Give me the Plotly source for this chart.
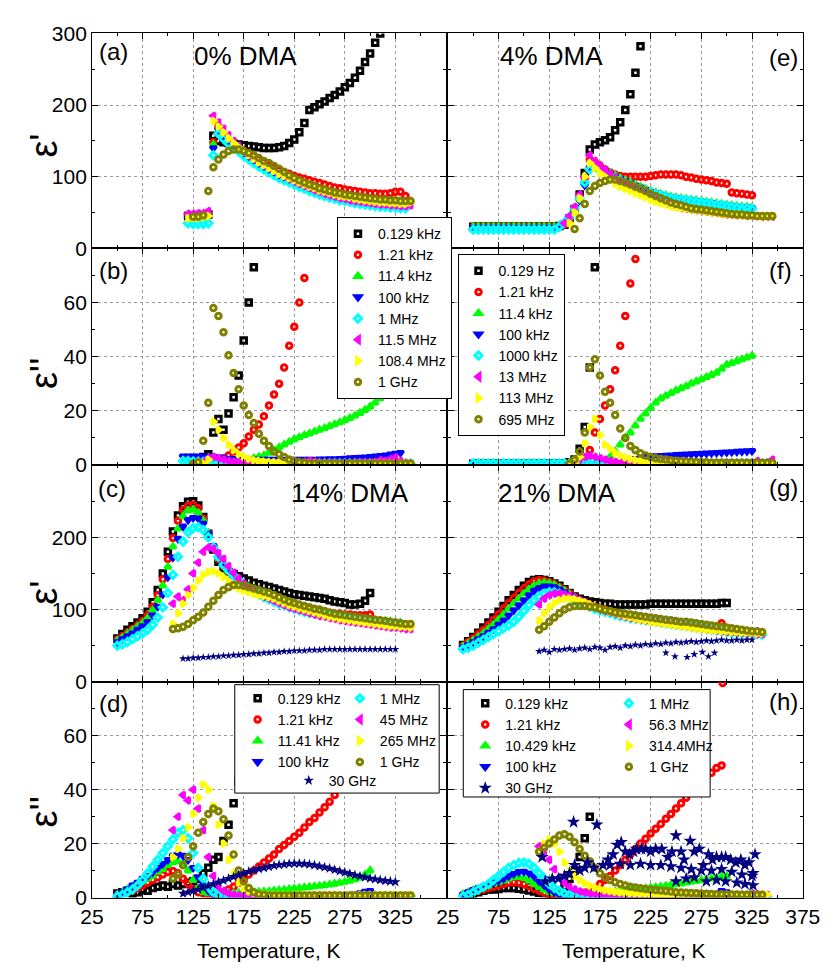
import plotly.graph_objects as go

FONT = "Arial, Liberation Sans, Helvetica, sans-serif"

# common temperature grid (K)
T_GRID = [40, 45, 50, 55, 60, 65, 70, 75, 80, 85, 90, 95, 100, 105, 110, 115, 120, 125, 130, 135,
          140, 145, 150, 155, 160, 165, 170, 175, 180, 185, 190, 195, 200, 205, 210, 215, 220, 225,
          230, 235, 240, 245, 250, 255, 260, 265, 270, 275, 280, 285, 290, 295, 300, 305, 310, 315,
          320, 325, 330, 335, 340, 345]

# ---------------- 0% DMA, eps' (a) : (start T, values) ----------------
A_K0129 = (120, [45, 45, 45, 45, 47, 157, 150, 148, 147, 146, 145, 144, 143, 142, 141, 140, 140, 140, 141, 143,
                 147, 152, 162, 175, 193, 197, 201, 205, 210, 214, 219, 225, 231, 238, 248, 260, 272, 287, 300])
A_K121 = (120, [46, 46, 46, 46, 47, 148, 170, 160, 152, 145, 139, 134, 130, 126, 122, 118, 115, 112, 109, 106,
                104, 101, 99, 97, 95, 93, 91, 89, 87, 85, 84, 82, 81, 80, 79, 78, 77, 77, 76, 76, 77, 79, 79, 73])
A_K114 = (120, [47, 47, 47, 47, 48, 145, 168, 160, 152, 146, 140, 134, 129, 124, 119, 115, 111, 107, 103, 100,
                97, 94, 91, 88, 85, 83, 80, 78, 76, 74, 72, 71, 70, 68, 67, 66, 65, 64, 63, 63, 62, 62, 61, 61])
A_K100 = (120, [44, 44, 44, 44, 45, 140, 166, 158, 150, 144, 138, 132, 127, 122, 117, 113, 109, 105, 101, 98,
                95, 92, 89, 86, 83, 81, 78, 76, 74, 72, 70, 69, 68, 66, 65, 64, 63, 62, 61, 61, 60, 60, 59, 59])
A_M1 = (120, [35, 34, 34, 34, 35, 130, 160, 153, 146, 140, 135, 129, 124, 119, 114, 110, 106, 102, 98, 95,
              92, 89, 86, 83, 80, 78, 75, 73, 71, 69, 67, 66, 65, 63, 62, 61, 60, 59, 58, 58, 57, 57, 56, 56])
A_M115 = (120, [48, 48, 49, 49, 52, 185, 176, 167, 158, 150, 143, 136, 130, 125, 120, 116, 112, 108, 104, 100,
                97, 93, 90, 87, 84, 81, 79, 76, 74, 72, 70, 69, 67, 66, 65, 64, 63, 62, 61, 61, 60, 60, 59, 59, 60])
A_M1084 = (120, [42, 42, 42, 43, 45, 178, 170, 162, 154, 147, 141, 135, 130, 125, 120, 116, 112, 108, 104, 101,
                 98, 95, 92, 89, 86, 84, 81, 79, 77, 75, 73, 72, 71, 69, 68, 67, 66, 65, 64, 64, 63, 63, 62, 62, 64])
A_G1 = (125, [44, 44, 46, 80, 113, 124, 131, 136, 138, 138, 136, 133, 130, 126, 122, 119, 115, 111, 107, 102,
              98, 95, 92, 89, 87, 84, 82, 80, 78, 77, 75, 74, 73, 72, 71, 70, 69, 68, 68, 67, 67, 66, 66, 66])

# ---------------- 0% DMA, eps'' (b) ----------------
B_K0129 = (130, [2, 3, 4, 12, 17, 13, 19, 25, 33, 46, 60, 73])
B_K121 = (140, [1, 1.5, 2, 2.5, 3.5, 5, 6.5, 8, 10.5, 13, 15, 18, 22, 26, 30, 36, 44, 51, 60, 69])
B_K114 = (120, [1.5, 1.5, 1.5, 1.5, 1.5, 1.5, 1.5, 1.5, 1.5, 1.5, 1.5, 1.8, 2, 2.5, 3, 3.5, 4.5, 5.5, 6.5, 7.5,
                8.5, 9.5, 10.2, 11, 11.6, 12.3, 13, 13.6, 14.3, 15, 15.7, 16.5, 17.3, 18.2, 19.2, 20.3, 21.5,
                23, 24.6, 26.5, 28.5, 31, 34])
B_K100 = (115, [3.2, 3.2, 3.2, 3.2, 3.2, 3.2, 3, 2.8, 2.6, 2.4, 2.3, 2.2, 2.1, 2, 2, 2, 2, 2, 2, 2,
                2, 2, 2, 2, 2, 2, 2, 2.1, 2.1, 2.2, 2.2, 2.3, 2.4, 2.5, 2.6, 2.7, 2.8, 3, 3.2, 3.4,
                3.6, 3.9, 4.2, 4.5])
B_M1 = (115, [1.5, 1.5, 1.3, 1.2, 1.1, 1, 0.9, 0.8, 0.8, 0.7, 0.7, 0.7, 0.6, 0.6, 0.6, 0.6, 0.6, 0.6, 0.6, 0.6,
              0.6, 0.6, 0.6, 0.6, 0.6, 0.6, 0.6, 0.6, 0.6, 0.6, 0.6, 0.6, 0.6, 0.6, 0.6, 0.6, 0.6, 0.6, 0.6, 0.6,
              0.6, 0.6, 0.6, 0.6, 0.6, 0.6])
B_M115 = (125, [0.3, 0.5, 1, 2.5, 3, 2.5, 2, 1.5, 1.2, 1, 0.9, 0.8, 0.8, 0.7, 0.7, 0.7, 0.7, 0.7, 0.7, 0.7,
                0.8, 0.9, 1.2, 1.5, 1.2, 0.9, 0.8, 0.8, 0.8, 0.8, 0.8, 0.8, 0.9, 1, 1, 1, 1.2, 1.8, 1.5, 2.2,
                2.8, 1.5, 0.8, 0.6])
B_M1084 = (130, [0.3, 0.5, 2, 16, 13, 10, 7.5, 5.5, 4, 3, 2.3, 1.8, 1.5, 1.3, 1.1, 1, 0.9, 0.8, 0.8, 0.7,
                 0.7, 0.6, 0.6, 0.6, 0.6, 0.6, 0.6, 0.6, 0.6, 0.6, 0.6, 0.6, 0.6, 0.6, 0.6, 0.6, 0.6, 0.6, 0.6,
                 0.6, 0.6, 0.6, 0.6])
B_G1 = (125, [0.5, 1, 9, 23, 58, 55, 49, 40.5, 34, 28, 22, 18.5, 15.5, 11.5, 9, 7, 5, 4, 3, 2,
              1.5, 1, 0.8, 0.6, 0.6, 0.6, 0.6, 0.6, 0.6, 0.6, 0.6, 0.6, 0.6, 0.6, 0.6, 0.6, 0.6, 0.6, 0.6, 0.6,
              0.6, 0.6, 0.6, 0.6])

# ---------------- 4% DMA, eps' (e) ----------------
E_K0129 = (50, [30, 30, 30, 30, 30, 30, 30, 30, 30, 30, 30, 30, 30, 30, 30, 30, 30, 31, 33, 42,
                55, 75, 105, 138, 145, 148, 151, 155, 165, 176, 193, 215, 245, 282])
E_K121 = (50, [30, 30, 30, 30, 30, 30, 30, 30, 30, 30, 30, 30, 30, 30, 30, 30, 30,
               31, 33, 42, 55, 72, 98, 124, 120, 115, 110, 106, 103, 101, 100, 100, 100, 100, 100, 101, 102,
               103, 103, 103, 103, 102, 100, 99, 97, 96, 95, 94, 92, 91, 90, 78, 77, 76, 75, 74])
E_K114 = (50, [30, 30, 30, 30, 30, 30, 30, 30, 30, 30, 30, 30, 30, 30, 30, 30, 30,
               32, 36, 44, 55, 68, 90, 115, 117, 113, 109, 105, 102, 98, 95, 92, 89, 86, 83, 80, 78,
               76, 74, 72, 71, 70, 69, 68, 67, 66, 65, 64, 63, 62, 61, 60, 59, 58, 58, 57])
E_K100 = (50, [29, 29, 29, 29, 29, 29, 29, 29, 29, 29, 29, 29, 29, 29, 29, 29, 29,
               31, 35, 43, 54, 67, 88, 112, 115, 111, 107, 103, 100, 97, 94, 91, 88, 85, 82, 79, 77,
               75, 73, 71, 70, 69, 68, 67, 66, 65, 64, 63, 62, 61, 60, 59, 58, 57, 57, 56])
E_K1000 = (50, [26, 26, 26, 26, 26, 26, 26, 26, 26, 26, 26, 26, 26, 26, 26, 26, 26,
                30, 36, 44, 56, 70, 92, 110, 113, 109, 105, 101, 98, 95, 92, 89, 86, 83, 80, 78, 76,
                74, 72, 70, 69, 68, 67, 66, 65, 64, 63, 62, 61, 60, 59, 58, 57, 56, 56, 55])
E_M13 = (140, [35, 45, 58, 75, 100, 130, 122, 116, 110, 104, 99, 94, 89, 85, 81, 77, 74, 71, 68, 65,
               62, 60, 58, 56, 55, 54, 53, 52, 51, 50, 49, 48, 47, 47, 46, 46, 45, 45, 45, 44, 44, 44])
E_M113 = (145, [35, 50, 70, 100, 119, 112, 105, 100, 95, 90, 86, 83, 80, 77, 74, 71, 68, 65, 63, 61,
                59, 57, 56, 55, 54, 53, 52, 51, 50, 49, 48, 47, 47, 46, 46, 45, 45, 45, 44, 44, 44])
E_M695 = (150, [27, 42, 62, 80, 87, 91, 94, 96, 96, 94, 92, 89, 86, 83, 80, 76, 73, 70, 67, 64,
                62, 60, 58, 56, 55, 54, 53, 52, 51, 50, 49, 48, 47, 47, 46, 46, 45, 45, 45, 45])

# ---------------- 4% DMA, eps'' (f) ----------------
F_K0129 = (50, [0.5, 0.5, 0.5, 0.5, 0.5, 0.5, 0.5, 0.5, 0.5, 0.5, 0.5, 0.5, 0.5, 0.5, 0.5, 0.5, 0.5, 0.5, 0.5,
                1, 2, 6, 14, 36, 73])
F_K121 = (50, [0.3, 0.3, 0.3, 0.3, 0.3, 0.3, 0.3, 0.3, 0.3, 0.3, 0.3, 0.3, 0.3, 0.3, 0.3, 0.3, 0.3, 0.3, 0.3,
               0.3, 0.3, 1, 2.5, 5.5, 12, 17, 22, 28, 35, 44, 55, 67, 76])
F_K114 = (50, [0.5, 0.5, 0.5, 0.5, 0.5, 0.5, 0.5, 0.5, 0.5, 0.5, 0.5, 0.5, 0.5, 0.5, 0.5, 0.5, 0.5, 0.5, 0.5,
               0.5, 0.5, 0.5, 0.5, 0.5, 0.5, 0.5, 1.5, 3, 5, 7.5, 10, 12, 14.5, 17, 19, 21, 23, 24.5, 25.5,
               26.5, 27.5, 28.3, 29, 30, 30.8, 31.6, 32.4, 33.2, 34, 35.5, 37, 37.6, 38.3, 39, 39.6, 40.3])
F_K100 = (50, [0.5, 0.5, 0.5, 0.5, 0.5, 0.5, 0.5, 0.5, 0.5, 0.5, 0.5, 0.5, 0.5, 0.5, 0.5, 0.5, 0.5, 0.5, 0.5,
               0.5, 0.5, 0.5, 0.5, 0.5, 0.5, 0.5, 0.5, 0.5, 0.5, 0.5, 1.2, 1.8, 2.3, 2.7, 3, 3.2, 3.3, 3.4,
               3.5, 3.6, 3.7, 3.8, 3.9, 4, 4.1, 4.2, 4.3, 4.4, 4.5, 4.6, 4.7, 4.8, 4.9, 5, 5.1, 5.2])
F_K1000 = (50, [0.6, 0.6, 0.6, 0.6, 0.6, 0.6, 0.6, 0.6, 0.6, 0.6, 0.6, 0.6, 0.6, 0.6, 0.6, 0.6, 0.6, 0.6, 0.6,
                0.6, 0.6, 0.6, 0.6, 0.6, 0.6, 0.6, 0.6, 0.6, 0.6, 0.6, 0.6, 0.6, 0.6, 0.6, 0.6, 0.6, 0.6,
                0.6, 0.6, 0.6, 0.6, 0.6, 0.6, 0.6, 0.6, 0.6, 0.6, 0.6, 0.6, 0.6, 0.6, 0.6, 0.6, 0.6, 0.6,
                0.6, 0.6, 0.6, 0.6])
F_M13 = (145, [0.5, 1, 2, 3, 3.5, 3, 2.5, 2, 1.5, 1.2, 1, 0.9, 0.8, 0.8, 0.8, 0.8, 0.8, 0.8, 0.8, 0.8,
               0.8, 0.8, 1.5, 0.8, 0.8, 0.8, 0.8, 0.8, 0.8, 0.8, 0.8, 0.8, 0.8, 0.8, 0.8, 0.8, 0.8, 1.5,
               0.8, 0.8, 2])
F_M113 = (145, [0.5, 1, 3, 8, 14, 17, 11, 7.5, 6, 4.5, 3.5, 2.8, 2.2, 1.8, 1.4, 1.1, 0.9, 0.7, 0.5, 0.5,
                0.5, 0.5, 0.5, 0.5, 0.5, 0.5, 0.5, 0.5, 0.5, 0.5, 0.5, 0.5, 0.5, 0.5, 0.5, 0.5, 0.5, 0.5,
                0.5, 0.5, 0.5])
F_M695 = (145, [0.5, 2, 5, 12, 36, 39, 33, 27, 23, 18.5, 13.5, 10, 7, 5.5, 4.3, 3.5, 3, 2.5, 2.2, 2,
                1.8, 1.6, 1.4, 1.3, 1.2, 1.1, 1, 1, 0.8, 0.8, 0.8, 0.8, 0.8, 0.8, 0.8, 0.8, 0.8, 0.8, 0.8,
                0.8, 0.8])

# ---------------- 14% DMA, eps' (c) ----------------
C_K0129 = (50, [60, 66, 72, 77, 82, 88, 97, 110, 127, 150, 180, 208, 230, 243, 249, 250, 244, 228, 205, 183,
                166, 157, 152, 149, 146, 143, 140, 137, 135, 133, 131, 129, 127, 125, 123, 121, 120, 119, 118,
                117, 116, 115, 113, 111, 110, 109, 107, 107, 108, 112, 123])
C_K121 = (50, [58, 63, 68, 73, 78, 84, 92, 104, 120, 142, 170, 199, 223, 238, 244, 245, 240, 226, 206, 186,
               170, 160, 153, 147, 141, 135, 130, 126, 122, 119, 116, 113, 110, 108, 106, 104, 102, 100, 99,
               98, 97, 96, 95, 94, 94, 93, 93, 92, 92, 92, 93])
C_K1141 = (50, [57, 61, 66, 71, 76, 81, 88, 99, 113, 133, 159, 187, 212, 229, 237, 238, 234, 223, 206, 187,
                171, 161, 153, 147, 141, 135, 130, 126, 122, 119, 116, 113, 110, 108, 105, 103, 101, 99, 97,
                96, 95, 94, 93, 92, 91, 90, 89, 88, 87, 87, 86, 85, 84, 84, 83, 82, 82])
C_K100 = (50, [55, 59, 63, 67, 72, 77, 83, 92, 104, 121, 145, 172, 198, 215, 224, 227, 226, 219, 205, 188,
               172, 161, 153, 147, 141, 135, 130, 126, 122, 118, 115, 112, 109, 107, 104, 102, 100, 98, 96,
               95, 94, 93, 92, 91, 90, 89, 88, 87, 86, 86, 85, 84, 83, 83, 82, 81, 81])
C_M1 = (50, [50, 52, 55, 59, 63, 67, 72, 79, 89, 103, 123, 148, 173, 194, 207, 213, 214, 210, 200, 186,
             173, 162, 154, 147, 141, 135, 130, 125, 121, 117, 114, 111, 108, 106, 103, 101, 99, 97, 95,
             94, 93, 92, 91, 90, 89, 88, 87, 86, 85, 85, 84, 83, 82, 82, 81, 80, 80])
C_M45 = (105, [108, 118, 113, 128, 150, 165, 180, 186, 184, 178, 170, 160, 151, 143, 136, 130, 125, 121, 118,
               115, 112, 109, 106, 103, 101, 99, 97, 95, 93, 91, 90, 88, 87, 85, 84, 83, 82, 81, 80, 79,
               78, 77, 76, 75, 75, 74, 73, 73])
C_M265 = (105, [80, 95, 108, 120, 130, 140, 148, 152, 153, 150, 145, 139, 133, 129, 126, 124, 122, 120, 119,
                117, 115, 112, 109, 106, 104, 102, 100, 98, 96, 94, 92, 90, 89, 87, 86, 85, 84, 83, 82, 81,
                80, 79, 78, 77, 77, 76, 76, 75])
C_G1 = (105, [73, 74, 76, 80, 85, 90, 96, 104, 112, 120, 127, 131, 134, 134, 133, 131, 129, 127, 125, 123,
              120, 117, 114, 111, 109, 107, 105, 103, 101, 100, 98, 96, 94, 93, 92, 91, 90, 89, 88, 87,
              86, 85, 84, 83, 82, 81, 80, 80])
C_G30 = (115, [32, 32, 33, 33, 34, 34, 35, 35, 36, 36, 37, 37, 38, 38, 39, 39, 40, 40, 41, 41, 42, 42, 43,
               43, 43, 44, 44, 44, 45, 45, 45, 45, 45, 45, 45, 45, 45, 45, 45, 45, 45, 45, 45])

# ---------------- 14% DMA, eps'' (d) ----------------
D_K0129 = (50, [1.5, 2, 2.5, 1.5, 2, 3, 2.5, 3.5, 4, 4.5, 4, 5, 4.5, 5, 5.5, 6, 7, 9, 11, 14,
                15, 21, 27, 35, 43])
D_K121 = (50, [1, 1.5, 2, 2.5, 3.5, 4.5, 5.5, 6.5, 7.5, 8.5, 9.5, 9.8, 9, 7, 5, 3.2, 2, 1.5, 1.2, 1.2,
               1.5, 2, 3, 4, 5.5, 7, 8.5, 10, 11.5, 13, 14.5, 16, 18, 19.5, 21, 22.5, 24, 26, 28, 29.5,
               31.5, 33.5, 35.5, 38, 40.5, 43, 45.5, 48, 51, 54, 57])
D_K1141 = (50, [1, 2, 3, 4, 5, 6, 7, 8, 9.5, 10.5, 12, 13, 13.4, 12.5, 10, 6.5, 3.5, 2, 1.5, 1.5,
                1.5, 1.5, 1.5, 1.6, 1.7, 1.8, 1.9, 2, 2.1, 2.2, 2.3, 2.5, 2.7, 2.9, 3.1, 3.3, 3.5, 3.7,
                3.9, 4.1, 4.3, 4.5, 4.8, 5.1, 5.4, 5.8, 6.2, 6.7, 7.3, 8.5, 10])
D_K100 = (50, [1, 2, 3, 4.5, 5.5, 7, 8, 9.5, 11, 12.5, 14, 15.5, 16, 15.5, 14, 11, 7.5, 4.5, 2.5, 1.2,
               0.8, 0.6, 0.6, 0.6, 0.6, 0.6, 0.6, 0.6, 0.6, 0.6, 0.6, 0.6, 0.6, 0.6, 0.6, 0.7, 0.7, 0.7,
               0.7, 0.8, 0.8, 0.8, 0.9, 0.9, 1, 1, 1.1, 1.3, 1.6, 2.2, 2.5])
D_M1 = (50, [0.5, 1, 2, 3, 4.5, 6.5, 9, 11.5, 14, 16.5, 19, 21.5, 24, 25, 22, 16.5, 11, 7, 4, 2,
             1, 0.5, 0.5, 0.5, 0.5, 0.5, 0.5, 0.5, 0.5, 0.5, 0.5, 0.5, 0.5, 0.5, 0.5, 0.5, 0.5, 0.5, 0.5,
             0.5, 0.5, 0.5, 0.5, 0.5, 0.5, 0.5, 0.5, 0.5, 0.5, 0.5, 0.5, 0.5, 0.5, 0.5, 0.5, 0.5, 0.5,
             0.5, 0.5])
D_M45 = (105, [25, 30, 38, 36, 40, 33, 25, 15, 8, 4, 2.5, 1.5, 1, 0.8, 0.6, 0.6, 0.6, 0.6, 0.6, 0.6,
               0.6, 0.6, 0.6, 0.6, 0.6, 0.6, 0.6, 0.6, 0.6, 0.6, 0.6, 0.6, 0.6, 0.6, 0.6, 0.6, 0.6, 0.6,
               0.6, 0.6, 0.6, 0.6, 0.6, 0.6, 0.6, 0.6, 0.6, 0.6])
D_M265 = (105, [15, 18, 22, 26, 31, 37, 42, 40, 34, 27, 20, 14, 9, 5.5, 3.5, 2.3, 1.7, 1.4, 1.2, 1,
                1, 1, 1, 1, 1, 1, 1, 1, 1, 1, 1, 1, 1, 1, 1, 1, 1, 1, 1, 1, 1, 1, 1, 1, 1, 1, 1, 1])
D_G1 = (105, [7, 8.5, 12, 15, 19, 24, 28, 31, 33, 32, 29, 23, 16, 10, 6, 3.5, 2, 1.2, 1, 0.8,
              0.8, 0.8, 0.8, 0.8, 0.8, 0.8, 0.8, 0.8, 0.8, 0.8, 0.8, 0.8, 0.8, 0.8, 0.8, 0.8, 0.8, 0.8,
              0.8, 0.8, 0.8, 0.8, 0.8, 0.8, 0.8, 0.8, 0.8, 0.8])
D_G30 = (115, [1.5, 2, 2.5, 3, 3.7, 4.3, 5, 5.7, 6.3, 7, 7.7, 8.3, 9, 9.6, 10.1, 10.6, 11, 11.4, 11.8,
               12.1, 12.3, 12.5, 12.6, 12.6, 12.5, 12.3, 12, 11.6, 11.2, 10.8, 10.3, 9.8, 9.3, 8.8, 8.3,
               7.9, 7.5, 7.1, 6.8, 6.5, 6.2, 6, 5.8])

# ---------------- 21% DMA, eps' (g) ----------------
G_K0129 = (40, [51, 56, 62, 68, 75, 82, 89, 97, 105, 113, 120, 127, 133, 138, 141, 142, 141, 139, 136, 133,
                128, 123, 118, 115, 113, 111, 110, 109, 108, 108, 107, 107, 107, 107, 107, 107, 107, 108,
                108, 108, 108, 108, 108, 108, 108, 108, 108, 108, 108, 108, 108, 109, 109])
G_K121 = (40, [50, 55, 60, 66, 72, 79, 86, 93, 101, 109, 116, 123, 129, 135, 139, 141, 140, 138, 135, 131,
               127, 122, 117, 113, 110, 107, 104, 102, 100, 98, 96, 94, 93, 91, 90, 89, 88, 87, 86, 85,
               84, 83, 82, 81, 80, 79, 78, 77, 77, 76, 76, 81])
G_K10429 = (40, [49, 53, 57, 62, 67, 73, 79, 86, 93, 101, 108, 115, 122, 128, 133, 136, 137, 136, 134, 130,
                 126, 121, 116, 112, 109, 106, 103, 101, 99, 97, 95, 93, 92, 90, 89, 88, 87, 86, 85, 84,
                 83, 82, 81, 80, 79, 78, 77, 76, 75, 74, 73, 72, 71, 70, 70, 69, 69, 68, 68, 67])
G_K100 = (40, [48, 51, 55, 59, 63, 68, 73, 79, 85, 92, 99, 106, 113, 120, 126, 130, 132, 132, 131, 128,
               124, 120, 115, 111, 108, 105, 102, 100, 98, 96, 94, 92, 91, 89, 88, 87, 86, 85, 84, 83,
               82, 81, 80, 79, 78, 77, 76, 75, 74, 73, 72, 71, 70, 69, 69, 68, 68, 67, 67, 66])
G_M1 = (40, [45, 47, 50, 54, 58, 62, 66, 70, 74, 78, 83, 90, 98, 106, 113, 118, 122, 124, 124, 122,
             119, 116, 113, 110, 107, 104, 101, 99, 97, 95, 93, 91, 90, 88, 87, 86, 85, 84, 83, 82,
             81, 80, 79, 78, 77, 76, 75, 74, 73, 72, 71, 70, 69, 68, 68, 67, 67, 66, 66, 65])
G_M563 = (115, [107, 115, 120, 122, 122, 121, 119, 116, 113, 110, 106, 103, 100, 98, 96, 94, 92, 90, 88, 87,
                86, 85, 84, 83, 82, 81, 80, 79, 78, 77, 76, 75, 74, 73, 72, 71, 70, 69, 69, 68, 68, 67,
                67, 66, 66])
G_M3144 = (115, [85, 95, 103, 109, 113, 115, 115, 114, 112, 110, 107, 104, 101, 99, 97, 95, 93, 91, 89, 87,
                 86, 85, 83, 82, 81, 80, 79, 78, 77, 76, 75, 74, 73, 72, 71, 71, 70, 70, 69, 69, 68, 68,
                 67, 67, 67])
G_G1 = (115, [72, 77, 83, 89, 95, 100, 103, 105, 105, 105, 104, 103, 101, 99, 98, 96, 95, 94, 93, 92,
              91, 90, 89, 88, 87, 86, 85, 84, 83, 83, 82, 81, 80, 79, 78, 77, 76, 75, 74, 73, 72, 71,
              70, 70, 69])
G_G30 = (115, [42, 44, 41, 45, 44, 45, 46, 44, 46, 47, 45, 48, 47, 44, 48, 49, 47, 50, 49, 51, 50, 52, 51,
               53, 52, 54, 53, 55, 54, 55, 56, 55, 56, 57, 56, 57, 58, 57, 57, 58, 57, 58, 58])
G_G30_LOW_T = [240, 249, 261, 268, 276, 282, 288]
G_G30_LOW = [40, 35, 34, 38, 41, 35, 40]

# ---------------- 21% DMA, eps'' (h) ----------------
H_K0129 = (45, [1, 1.5, 2, 2.5, 3, 3, 3.2, 3.5, 3.5, 3.5, 3.3, 3, 2.6, 2.2, 1.8, 1.6, 1.5, 1.5, 2.5, 4,
                7, 10, 15, 22, 30, 40])
H_K121 = (40, [1, 1.5, 2, 2.5, 3, 3.5, 4, 4.5, 5, 5.5, 5.7, 5.5, 5, 4.2, 3.3, 2.5, 1.8, 1.3, 1, 0.8,
               0.8, 0.9, 1, 1.3, 1.8, 2.5, 3.5, 5, 6.5, 8, 10, 12, 14, 16, 18, 20, 21.8, 23.7, 25.5, 27.3,
               29.2, 31, 33, 35, 37, 39, 40.8, 42.5, 44.5, 46.3, 48, 49])
H_K121_EXTRA_T = [296]
H_K121_EXTRA = [79.5]
H_K10429 = (40, [1.2, 2, 2.7, 3.2, 3.7, 4.3, 5, 5.6, 6.3, 7, 7.5, 7.6, 7.2, 6.3, 5, 3.8, 2.8, 2, 1.5, 1.3,
                 1.2, 1.2, 1.3, 1.4, 1.5, 1.6, 1.7, 1.8, 1.9, 2, 2.2, 2.4, 2.6, 2.8, 3, 3.2, 3.4, 3.6, 3.8,
                 4, 4.3, 4.6, 4.9, 5.2, 5.5, 5.8, 6.1, 6.4, 6.7, 7, 7.3, 7.6, 7.9])
H_K100 = (40, [1, 2, 2.8, 3.5, 4, 4.8, 5.5, 6.3, 7, 8, 8.8, 9.5, 9.6, 9, 7.8, 6, 4.5, 3, 2, 1.2,
               0.8, 0.6, 0.5, 0.5, 0.5, 0.5, 0.5, 0.5, 0.5, 0.5, 0.5, 0.5, 0.5, 0.5, 0.5, 0.5, 0.5, 0.5,
               0.5, 0.5, 0.5, 0.5, 0.5, 0.5, 0.5, 0.5, 0.5, 0.5, 0.5, 0.5, 0.5, 2.5, 2])
H_M1 = (40, [0.5, 1, 2, 3, 4, 5, 6.5, 8, 9.5, 11, 12, 12.8, 13, 12.5, 11, 9, 7, 5, 3.5, 2.5,
             1.5, 1, 0.8, 0.4, 0.4, 0.4, 0.4, 0.4, 0.4, 0.4, 0.4, 0.4, 0.4, 0.4, 0.4, 0.4, 0.4, 0.4,
             0.4, 0.4, 0.4, 0.4, 0.4, 0.4, 0.4, 0.4, 0.4, 0.4, 0.4, 0.4, 0.4, 0.4, 0.4, 0.4, 0.4, 0.4,
             0.4, 0.4, 0.4, 0.4, 0.4])
H_M563 = (115, [19, 17, 14, 10.5, 7.5, 5.5, 4, 3, 2.3, 1.8, 1.5, 1.3, 1.2, 1.1, 1, 1, 1, 1, 1, 1,
                1, 1, 1, 1, 1, 1, 1, 1, 1, 1, 1, 1, 1, 1, 1, 1, 1, 1, 1, 1, 1, 1, 1.5, 1.2, 1, 1])
H_M3144 = (115, [17, 20, 21.5, 20, 17, 13, 10, 8, 6.5, 5.3, 4.4, 3.7, 3.1, 2.7, 2.4, 2.1, 1.9, 1.7, 1.6,
                 1.5, 1.4, 1.3, 1.2, 1.1, 1, 1, 1, 1, 1, 1, 1, 1, 1, 1, 1, 1, 1, 1, 1, 1, 1, 1, 1, 1, 1, 1])
H_G1 = (115, [17, 18.5, 20, 21.5, 23, 23.5, 22.5, 20.5, 18, 15.5, 13.5, 11, 9, 7.5, 6.5, 5.7, 5, 4.5, 4,
              3.7, 3.4, 3.2, 3, 2.8, 2.6, 2.4, 2.2, 2, 1.9, 1.8, 1.7, 1.6, 1.5, 1.4, 1.3, 1.2, 1.2, 1.1,
              1.1, 1.1, 1, 1, 1, 1, 1])
H_G30_T = [118, 121, 128, 134, 140, 145, 149, 150, 155, 160, 163, 169, 172, 178, 183, 188, 192, 196, 200,
           204, 208, 211, 216, 220, 225, 230, 236, 242, 246, 250, 255, 258, 264, 268, 273, 277, 282, 286,
           290, 295, 299, 304, 309, 314, 318, 322, 326, 328,
           185, 195, 205, 215, 225, 235, 245, 255, 265, 275, 285, 295, 305, 315, 325,
           250, 260, 268, 280, 290, 299, 310, 318, 326]
H_G30 = [15, 6, 7, 7, 8, 9, 28, 12, 10, 11, 13, 11, 27, 12, 14, 16, 19.5, 20.5, 17,
         16, 17, 18, 18, 18, 17, 18, 18, 15, 17, 23, 17, 14, 21, 17, 18, 12, 16, 14,
         15, 15, 15, 14, 13, 14, 12, 13, 9, 16,
         12, 12.5, 12, 12.5, 12, 12, 11.5, 11, 10.5, 10, 10, 10.5, 9.5, 8.5, 8,
         6, 7, 7.5, 6, 6.5, 6, 5.5, 5, 4.5]

NAMES_0 = ['0.129 kHz', '1.21 kHz', '11.4 kHz', '100 kHz', '1 MHz', '11.5 MHz', '108.4 MHz', '1 GHz']
NAMES_4 = ['0.129 Hz', '1.21 kHz', '11.4 kHz', '100 kHz', '1000 kHz', '13 MHz', '113 MHz', '695 MHz']
NAMES_14 = ['0.129 kHz', '1.21 kHz', '11.41 kHz', '100 kHz', '1 MHz', '45 MHz', '265 MHz', '1 GHz', '30 GHz']
NAMES_21 = ['0.129 kHz', '1.21 kHz', '10.429 kHz', '100 kHz', '1 MHz', '56.3 MHz', '314.4MHz', '1 GHz', '30 GHz']

# ---------------- styles ----------------
STYLE = {
    'k': ('square-open', '#000000'),
    'r': ('circle-open', '#ff0000'),
    'g': ('triangle-up-open', '#00ff00'),
    'b': ('triangle-down-open', '#0000ff'),
    'c': ('diamond-open', '#00ffff'),
    'm': ('triangle-left-open', '#ff00ff'),
    'y': ('triangle-right-open', '#ffff00'),
    'o': ('circle-open', '#808000'),
    'n': ('star', '#000080'),
}
KEYS = ['k', 'r', 'g', 'b', 'c', 'm', 'y', 'o', 'n']

fig = go.Figure()


def on_grid(series):
    t0, vals = series
    i = T_GRID.index(t0)
    xs = T_GRID[i:i + len(vals)]
    return list(xs), list(vals[:len(xs)])


def add(axes, key, xs, ys, name, legend=None, size=None):
    sym, col = STYLE[key]
    if key == 'n':
        marker = dict(symbol=sym, color=col, size=size or 7, line=dict(width=0))
    else:
        marker = dict(symbol=sym, color=col, size=size or 5.5, line=dict(width=3, color=col))
    fig.add_trace(go.Scatter(x=xs, y=ys, mode='markers', name=name, marker=marker,
                             xaxis=axes[0], yaxis=axes[1], hoverinfo='skip',
                             showlegend=legend is not None, legend=legend or 'legend'))


AX = {'a': ('x', 'y'), 'b': ('x2', 'y2'), 'c': ('x3', 'y3'), 'd': ('x4', 'y4'),
      'e': ('x5', 'y5'), 'f': ('x6', 'y6'), 'g': ('x7', 'y7'), 'h': ('x8', 'y8')}

panel_series = {
    'a': ([A_K0129, A_K121, A_K114, A_K100, A_M1, A_M115, A_M1084, A_G1], NAMES_0, ['legend'] * 8),
    'b': ([B_K0129, B_K121, B_K114, B_K100, B_M1, B_M115, B_M1084, B_G1], NAMES_0, [None] * 8),
    'e': ([E_K0129, E_K121, E_K114, E_K100, E_K1000, E_M13, E_M113, E_M695], NAMES_4, [None] * 8),
    'f': ([F_K0129, F_K121, F_K114, F_K100, F_K1000, F_M13, F_M113, F_M695], NAMES_4, ['legend2'] * 8),
    'c': ([C_K0129, C_K121, C_K1141, C_K100, C_M1, C_M45, C_M265, C_G1, C_G30], NAMES_14, [None] * 9),
    'd': ([D_K0129, D_K121, D_K1141, D_K100, D_M1, D_M45, D_M265, D_G1, D_G30], NAMES_14,
          ['legend3'] * 4 + ['legend4'] * 4 + ['legend5']),
    'g': ([G_K0129, G_K121, G_K10429, G_K100, G_M1, G_M563, G_M3144, G_G1, G_G30], NAMES_21, [None] * 9),
    'h': ([H_K0129, H_K121, H_K10429, H_K100, H_M1, H_M563, H_M3144, H_G1], NAMES_21,
          ['legend6'] * 4 + ['legend7'] * 4),
}

STAR_SIZE = {'c': 6, 'd': 8, 'g': 6, 'h': 10}

for p, (series_list, names, legends) in panel_series.items():
    for k, (s, nm, lg) in enumerate(zip(series_list, names, legends)):
        xs, ys = on_grid(s)
        key = KEYS[k]
        if p == 'g' and key == 'n':
            xs = xs + G_G30_LOW_T
            ys = ys + G_G30_LOW
        if p == 'h' and key == 'r':
            xs = xs + H_K121_EXTRA_T
            ys = ys + H_K121_EXTRA
        add(AX[p], key, xs, ys, nm, lg, STAR_SIZE.get(p) if key == 'n' else None)
    if p == 'h':
        add(AX[p], 'n', H_G30_T, H_G30, NAMES_21[8], 'legend6', STAR_SIZE['h'])

# ---------------- axes ----------------
W, H = 840, 972
XL = [83 / W, 450 / W]
XR = [452 / W, 820 / W]
ROWS = [(22, 242), (242, 464), (464, 686), (686, 907)]


def ydom(r):
    top, bot = ROWS[r]
    return [1 - bot / H, 1 - top / H]


base = dict(showline=True, linecolor='black', linewidth=1, mirror='ticks', ticks='inside', ticklen=6,
            tickwidth=1, tickcolor='black', showgrid=True, gridcolor='#9a9a9a', griddash='dot', gridwidth=1,
            zeroline=False, tickfont=dict(family=FONT, size=21, color='black'), fixedrange=True)

layout_axes = {}
panel_pos = {'a': (0, 0), 'b': (0, 1), 'c': (0, 2), 'd': (0, 3),
             'e': (1, 0), 'f': (1, 1), 'g': (1, 2), 'h': (1, 3)}
for p, (col, row) in panel_pos.items():
    xa, ya = AX[p]
    xname = 'xaxis' + xa[1:]
    yname = 'yaxis' + ya[1:]
    xt = [25, 75, 125, 175, 225, 275, 325] if col == 0 else [25, 75, 125, 175, 225, 275, 325, 375]
    layout_axes[xname] = dict(base, domain=XL if col == 0 else XR, range=[25, 375], anchor=ya,
                              tickmode='array', tickvals=xt, showticklabels=(row == 3),
                              minor=dict(tickmode='array', tickvals=[50, 100, 150, 200, 250, 300, 350],
                                         ticks='inside', ticklen=3, tickcolor='black', tickwidth=1,
                                         showgrid=False))
    if row in (0, 2):
        yr = [0, 300]
        yt = [0, 100, 200, 300] if row == 0 else [0, 100, 200]
        ym = [50, 150, 250]
    else:
        yr = [0, 80]
        yt = [0, 20, 40, 60]
        ym = [10, 30, 50, 70]
    layout_axes[yname] = dict(base, domain=ydom(row), range=yr, anchor=xa, tickmode='array', tickvals=yt,
                              showticklabels=(col == 0),
                              minor=dict(tickmode='array', tickvals=ym, ticks='inside', ticklen=3,
                                         tickcolor='black', tickwidth=1, showgrid=False))

fig.update_layout(**layout_axes)

# ---------------- legends ----------------
LFONT = dict(family=FONT, size=14, color='black')
boxed = dict(font=LFONT, bgcolor='white', bordercolor='black', borderwidth=1, xanchor='left',
             yanchor='top', tracegroupgap=0)
plain = dict(font=LFONT, bgcolor='rgba(0,0,0,0)', borderwidth=0, xanchor='left', yanchor='top',
             tracegroupgap=0)
fig.update_layout(
    legend=dict(boxed, x=337 / W, y=1 - 210 / H),
    legend2=dict(boxed, x=462 / W, y=1 - 248 / H),
    legend3=dict(plain, x=234 / W, y=1 - 687 / H),
    legend4=dict(plain, x=340 / W, y=1 - 687 / H),
    legend5=dict(plain, x=287 / W, y=1 - 771 / H),
    legend6=dict(plain, x=470 / W, y=1 - 692 / H),
    legend7=dict(plain, x=619 / W, y=1 - 692 / H),
)
fig.update_layout(shapes=[
    dict(type='rect', xref='paper', yref='paper', x0=231 / W, x1=443 / W, y0=1 - 800 / H, y1=1 - 689 / H,
         fillcolor='white', line=dict(color='black', width=1), layer='above'),
    dict(type='rect', xref='paper', yref='paper', x0=468 / W, x1=724 / W, y0=1 - 804 / H, y1=1 - 694 / H,
         fillcolor='white', line=dict(color='black', width=1), layer='above'),
])

# ---------------- text ----------------
ann = []
for txt, x, y in [('(a)', 105, 40), ('(b)', 105, 265), ('(c)', 104, 488), ('(d)', 105, 708),
                  ('(e)', 800, 47), ('(f)', 797, 265), ('(g)', 800, 487), ('(h)', 800, 706)]:
    ann.append(dict(text=txt, x=x / W, y=1 - y / H, xref='paper', yref='paper', showarrow=False,
                    xanchor='center', yanchor='middle', font=dict(family=FONT, size=24, color='black')))
for txt, x, y in [('0% DMA', 242, 45), ('4% DMA', 559, 45), ('14% DMA', 350, 493), ('21% DMA', 565, 493)]:
    ann.append(dict(text=txt, x=x / W, y=1 - y / H, xref='paper', yref='paper', showarrow=False,
                    xanchor='center', yanchor='middle', font=dict(family=FONT, size=26, color='black')))
for txt, x, y in [("ε'", 33, 137), ("ε''", 33, 370), ("ε'", 33, 595), ("ε''", 33, 819)]:
    ann.append(dict(text=txt, x=x / W, y=1 - y / H, xref='paper', yref='paper', showarrow=False,
                    textangle=-90, xanchor='center', yanchor='middle',
                    font=dict(family=FONT, size=38, color='black')))
for txt, x, y in [('Temperature, K', 267, 961), ('Temperature, K', 645, 961)]:
    ann.append(dict(text=txt, x=x / W, y=1 - y / H, xref='paper', yref='paper', showarrow=False,
                    xanchor='center', yanchor='middle', font=dict(family=FONT, size=21, color='black')))

fig.update_layout(annotations=ann, width=W, height=H, autosize=False,
                  margin=dict(l=0, r=0, t=0, b=0), paper_bgcolor='white', plot_bgcolor='white',
                  font=dict(family=FONT, color='black'), hovermode=False)

fig.write_html("out.html")
